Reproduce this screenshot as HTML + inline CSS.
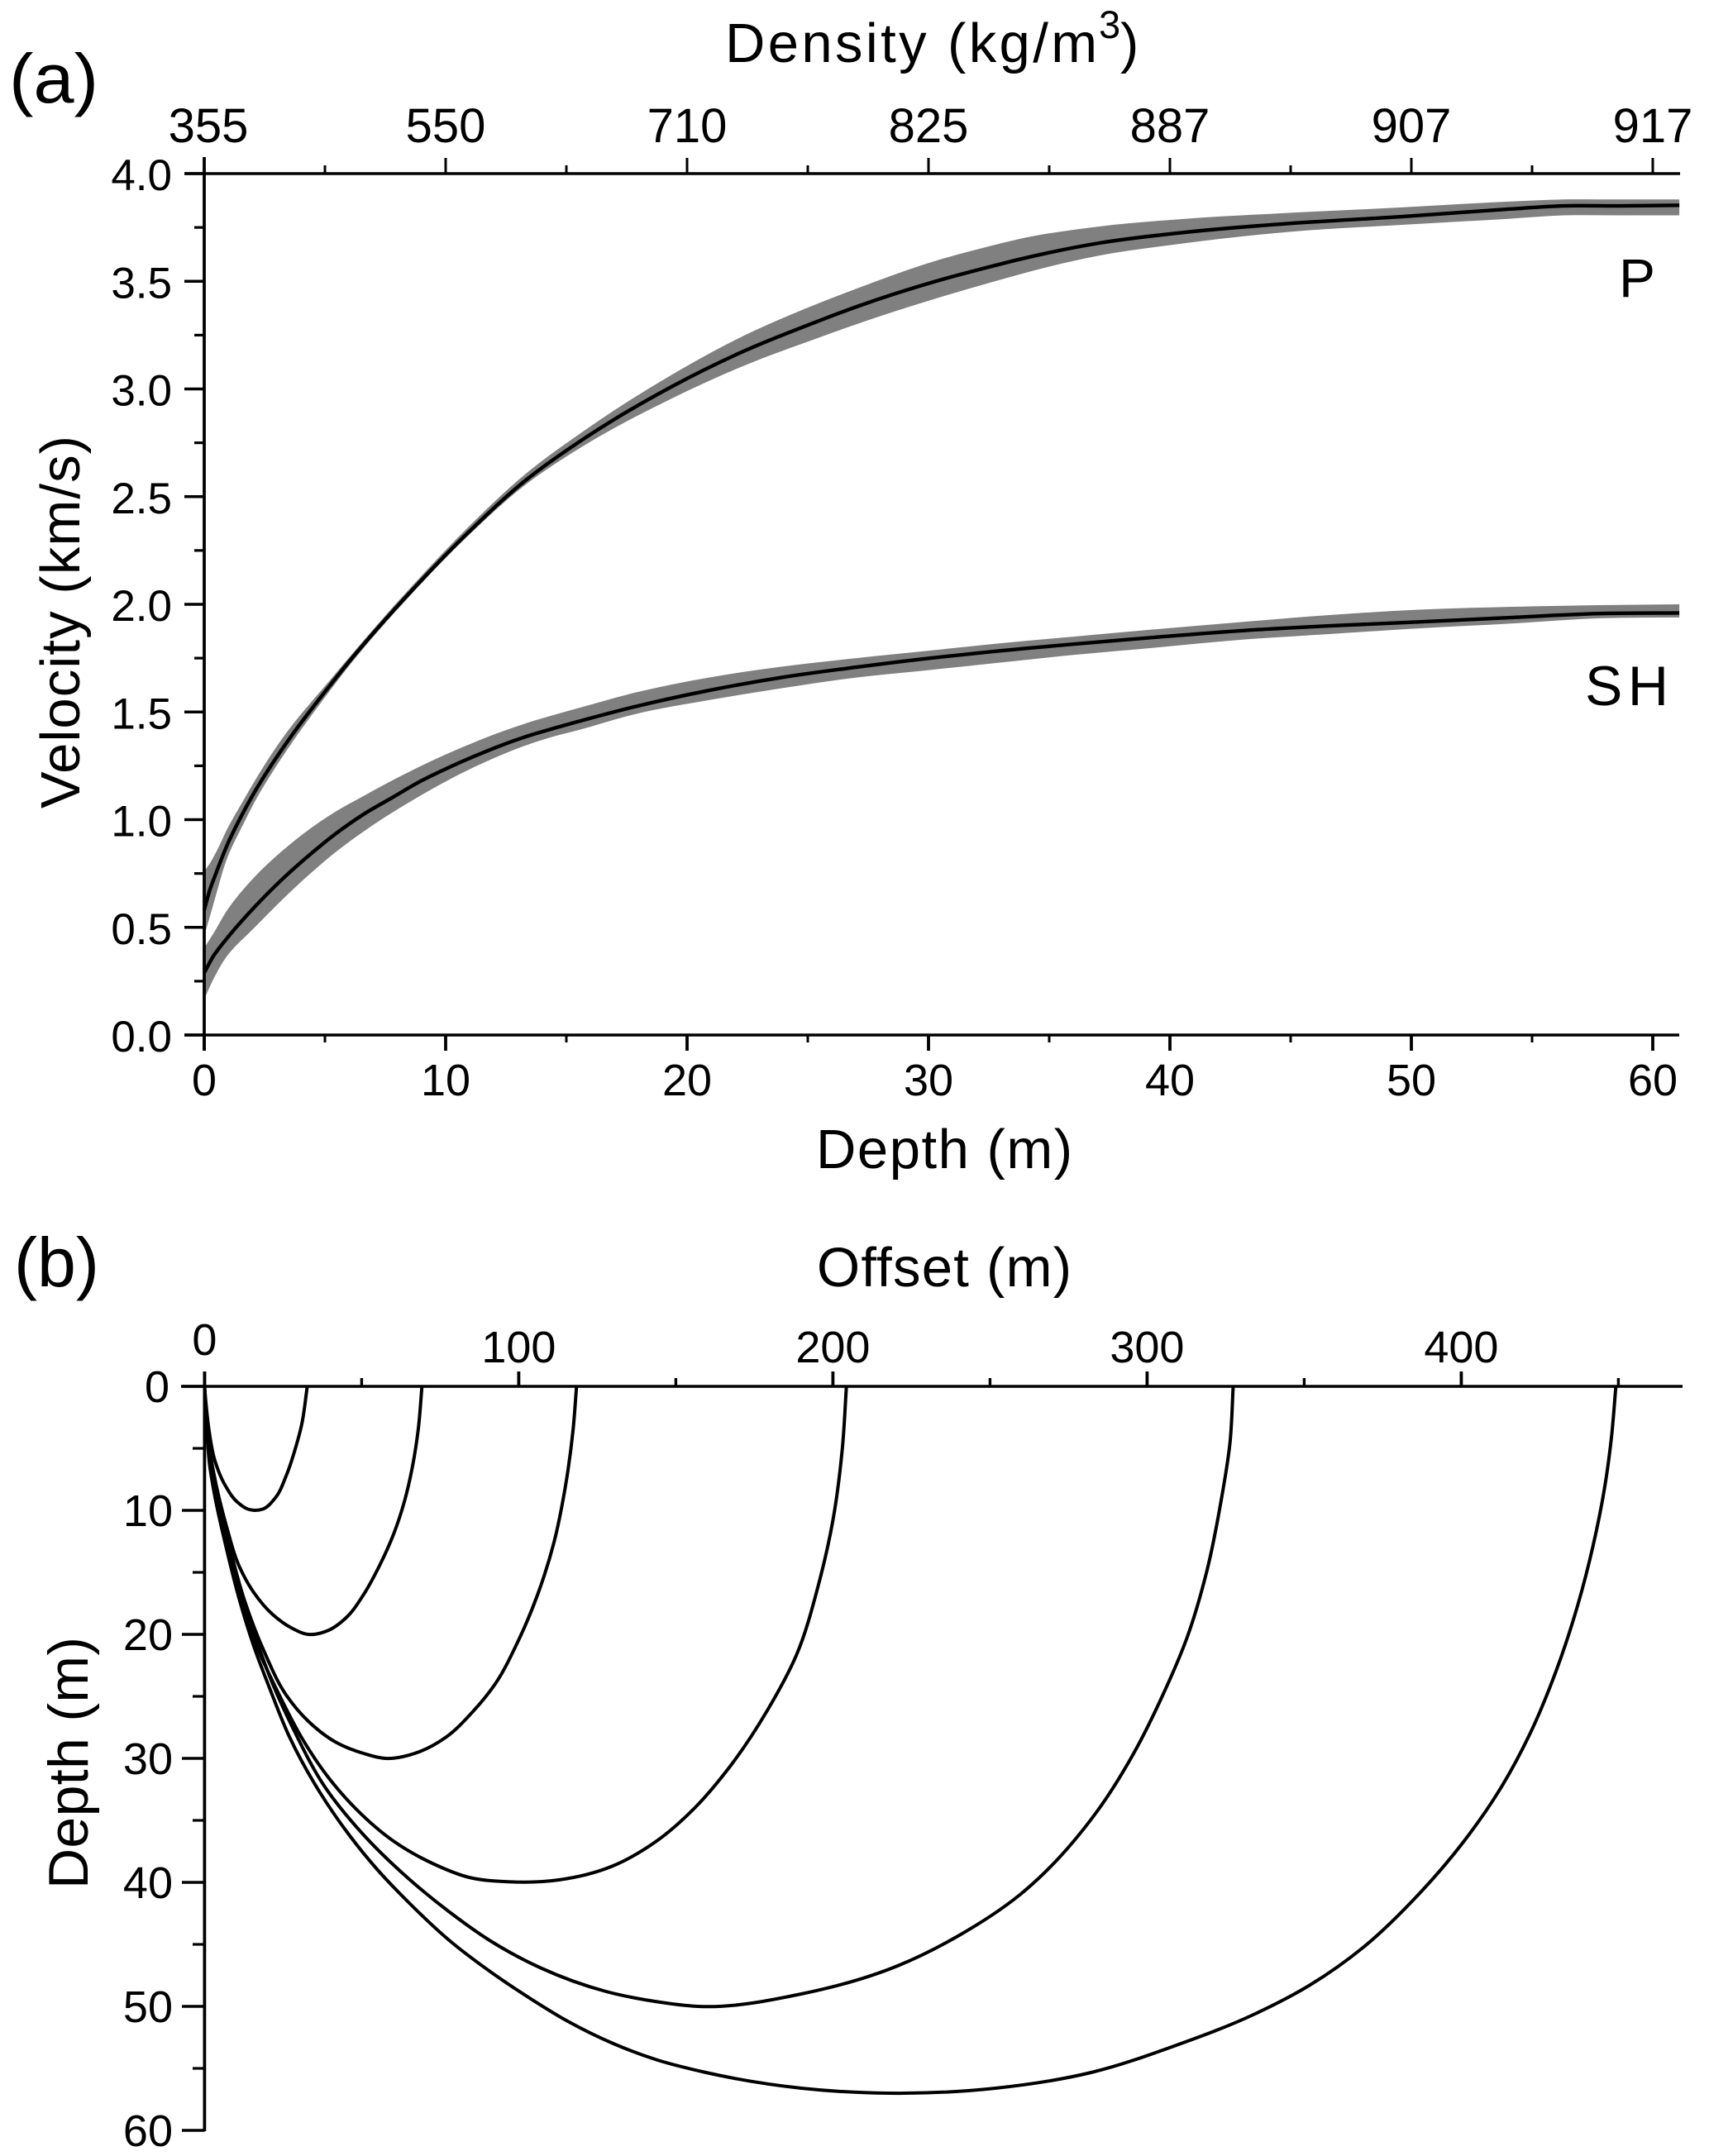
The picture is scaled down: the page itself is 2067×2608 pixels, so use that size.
<!DOCTYPE html>
<html lang="en">
<head>
<meta charset="utf-8">
<title>Velocity and ray paths</title>
<style>
html,body{margin:0;padding:0;background:#fff;width:2067px;height:2608px;overflow:hidden}
svg{display:block}
text{font-family:"Liberation Sans",Arial,sans-serif;fill:#000}
</style>
</head>
<body>
<svg id="fig" xmlns="http://www.w3.org/2000/svg" width="2067" height="2608" viewBox="0 0 2067 2608">
<rect width="2067" height="2608" fill="#fff"/>
<g id="a-bands"></g>
<g id="a-lines"></g>
<g id="b-rays"></g>
<g id="axes"></g>
<g id="labels"></g>
<text x="11" y="124" font-size="84" textLength="108" lengthAdjust="spacingAndGlyphs">(a)</text>
<text x="877" y="75" font-size="67" textLength="450">Density (kg/m</text>
<text x="1329" y="46" font-size="47">3</text>
<text x="1355" y="75" font-size="67">)</text>
<text transform="translate(96 978) rotate(-90)" font-size="67" textLength="451">Velocity (km/s)</text>
<text x="987" y="1413" font-size="67" textLength="310">Depth (m)</text>
<text x="1958" y="359" font-size="66">P</text>
<text x="1917" y="853" font-size="68" textLength="101">SH</text>
<text x="17" y="1556" font-size="84" textLength="103" lengthAdjust="spacingAndGlyphs">(b)</text>
<text x="988" y="1556" font-size="67" textLength="308">Offset (m)</text>
<text transform="translate(106 2285) rotate(-90)" font-size="68" textLength="305">Depth (m)</text>
</svg>
<script>
// Panel (a) data
const pDepth = [0,.25,.45,1,1.6,2.2,2.85,3.65,4.35,5.15,5.9,8.65,10.95,13.25,15.85,19.35,22.4,25.5,27,30.3,32.6,33.7,37.1,40.5,45,49.6,54,56.3,58.6,61.1];
const pMean  = [.58,.68,.74,.895,1.03,1.15,1.265,1.395,1.50,1.615,1.72,2.07,2.335,2.57,2.778,3.01,3.178,3.318,3.381,3.50,3.569,3.60,3.678,3.726,3.769,3.80,3.835,3.85,3.85,3.853];
const pUpper = [.76,.80,.84,.967,1.085,1.20,1.315,1.44,1.535,1.64,1.74,2.09,2.36,2.60,2.815,3.065,3.25,3.40,3.465,3.595,3.665,3.695,3.755,3.789,3.818,3.843,3.87,3.88,3.88,3.88];
const pLower = [.46,.556,.635,.835,.975,1.105,1.225,1.36,1.47,1.59,1.70,2.055,2.32,2.55,2.745,2.955,3.11,3.24,3.30,3.42,3.495,3.53,3.62,3.675,3.73,3.762,3.79,3.806,3.806,3.806];
const shDepth = [0,.4,.9,2.05,3.2,4.35,5.45,6.6,7.75,8.9,10.05,11.2,12.3,13.45,14.6,15.5,17.85,20.9,23.9,27,30.05,32.6,36,39.5,42.9,46.6,50.3,54,57.8,61.1];
const shMean  = [.289,.37,.443,.59,.72,.835,.935,1.025,1.10,1.175,1.238,1.295,1.345,1.39,1.428,1.456,1.525,1.60,1.66,1.708,1.75,1.78,1.815,1.848,1.877,1.90,1.918,1.938,1.957,1.96];
const shUpper = [.405,.475,.571,.73,.852,.955,1.038,1.11,1.18,1.245,1.305,1.36,1.408,1.452,1.49,1.518,1.59,1.66,1.71,1.75,1.785,1.815,1.85,1.885,1.917,1.95,1.975,1.988,1.996,2.0];
const shLower = [.166,.264,.36,.495,.625,.745,.85,.945,1.03,1.108,1.18,1.245,1.30,1.35,1.39,1.416,1.49,1.555,1.61,1.66,1.695,1.725,1.765,1.80,1.835,1.862,1.888,1.91,1.935,1.939];
const depthTicksA = [0,10,20,30,40,50,60];
const depthMinorA = [5,15,25,35,45,55];
const densityLabels = ["355","550","710","825","887","907","917"];
const velocityTicks = [0,.5,1,1.5,2,2.5,3,3.5,4];
const velocityMinor = [.25,.75,1.25,1.75,2.25,2.75,3.25,3.75];

// Panel (b) data: offset (m) and depth (m) along each ray
const ray1Offset = [0,.5,1.4,3.3,6.6,10.3,13.8,16,18.5,22.5,26,28.8,30.9,32.7];
const ray1Depth  = [0,1.5,3.5,6,8,9.3,9.9,10,9.9,9,7.2,5.1,3.1,0];
const ray2Offset = [0,.4,1,2.2,7,11.2,15.6,21.7,27.8,33,39.2,45.3,50.6,55.8,60.2,63.7,66.3,68,69.2];
const ray2Depth  = [0,2,4,6,11.3,14.6,16.6,18.4,19.5,20,19.7,18.6,16.8,14.4,11.9,9.2,6.3,3.5,0];
const ray3Offset = [0,.4,1,1.9,6.7,12.9,19,26,33,41.8,50.6,57.6,68,76.8,85.5,92.5,99.7,106,111.2,114.7,117.3,118.4];
const ray3Depth  = [0,2,4,6,11.5,17.4,21.4,24.9,27,28.7,29.6,30,29.5,28.3,26.2,24,20.6,16.8,12.6,8.3,3.5,0];
const ray4Offset = [0,.4,.9,1.7,7.2,11.9,14.5,24,31.3,39.6,47.9,60.3,72.8,84.2,96.6,112.8,129.7,143.7,156,166.8,179.2,188.5,195.4,200,203,204.3];
const ray4Depth  = [0,2,4,6,12.9,17.3,19.5,25,28.5,31.6,34,36.7,38.5,39.6,39.95,39.8,38.7,36.7,34,30.8,26.1,21.6,16,10.8,5,0];
const ray5Offset = [0,.3,.9,3.3,7.7,12,16.4,21.7,28.2,38.3,50,64.5,78,91.5,107,127.8,143.4,157,189.9,220.9,240,259.5,284,295.5,304.8,312.8,319.2,323.5,326.4,327.4];
const ray5Depth  = [0,2,4.2,8.4,12.9,17.1,20.4,24,27.6,32.3,36,39.6,42.4,44.8,46.9,48.8,49.6,50,49,46.7,44.3,41,34.3,29.7,25,20.2,14.7,9.3,4.5,0];
const ray6Offset = [0,.3,.9,1.55,3.3,6.8,11.2,15.6,20.8,26.9,36.6,45.8,55.1,64.5,78,91.5,103.9,115.6,130.1,143.8,159,190,217.8,251.7,282.7,308.6,334.4,351.7,369,386.3,400.8,412.3,421.7,430.4,437,441.9,445.6,447.8,449.2];
const ray6Depth  = [0,2,4.2,6.2,8.9,12.9,17.3,20.9,24.4,28.2,32.7,36.1,39,41.5,44.7,47.3,49.4,51.2,53,54.3,55.3,56.6,57,56.6,55.3,53.2,50.6,48.3,45.2,41,36.7,32.5,28.1,22.8,17.7,12.9,8.2,4.1,0];
const offsetTicks = [0,100,200,300,400];
const offsetMinor = [50,150,250,350,450];
const depthTicksB = [0,10,20,30,40,50,60];
const depthMinorB = [5,15,25,35,45,55];

// Axis functions
function xA(d){return 247+d*29.2;}
function yA(v){return 1252-v*260.5;}
function xB(o){return 247.4+o*3.8;}
function yB(d){return 1677+d*15;}

const NS='http://www.w3.org/2000/svg';
function mk(tag,attrs,parent,text){
  const e=document.createElementNS(NS,tag);
  for(const k in attrs)e.setAttribute(k,attrs[k]);
  if(text!==undefined)e.textContent=text;
  parent.appendChild(e);
  return e;
}
// Smooth path through points: chord-weighted (non-uniform) tangents
function smooth(pts,cont){
  const n=pts.length,t=[];
  for(let i=0;i<n;i++){
    if(i===0||i===n-1){
      const a=pts[i===0?0:n-2],b=pts[i===0?1:n-1];
      const l=Math.hypot(b[0]-a[0],b[1]-a[1])||1;
      t.push([(b[0]-a[0])/l,(b[1]-a[1])/l]);
    }else{
      const p=pts[i-1],q=pts[i],r=pts[i+1];
      const d1=Math.hypot(q[0]-p[0],q[1]-p[1])||1,d2=Math.hypot(r[0]-q[0],r[1]-q[1])||1;
      const ux=(q[0]-p[0])/d1*d2+(r[0]-q[0])/d2*d1,uy=(q[1]-p[1])/d1*d2+(r[1]-q[1])/d2*d1;
      const l=Math.hypot(ux,uy)||1;
      t.push([ux/l,uy/l]);
    }
  }
  let s=(cont?'L':'M')+pts[0][0].toFixed(2)+' '+pts[0][1].toFixed(2);
  for(let i=0;i<n-1;i++){
    const p=pts[i],q=pts[i+1],c=Math.hypot(q[0]-p[0],q[1]-p[1])/3;
    s+='C'+(p[0]+t[i][0]*c).toFixed(2)+' '+(p[1]+t[i][1]*c).toFixed(2)+' '+
      (q[0]-t[i+1][0]*c).toFixed(2)+' '+(q[1]-t[i+1][1]*c).toFixed(2)+' '+q[0].toFixed(2)+' '+q[1].toFixed(2);
  }
  return s;
}
function series(ds,vs){return ds.map(function(d,i){return [xA(d),yA(vs[i])];});}

const bands=document.getElementById('a-bands'),lines=document.getElementById('a-lines');
const pBand=mk('path',{d:smooth(series(pDepth,pUpper))+smooth(series(pDepth,pLower).reverse(),true)+'Z',fill:'#808080'},bands);


const shBand=mk('path',{d:smooth(series(shDepth,shUpper))+smooth(series(shDepth,shLower).reverse(),true)+'Z',fill:'#808080'},bands);


const pLine=mk('path',{d:smooth(series(pDepth,pMean)),fill:'none',stroke:'#000','stroke-width':4.4},lines);


const shLine=mk('path',{d:smooth(series(shDepth,shMean)),fill:'none',stroke:'#000','stroke-width':4.4},lines);



const rays=[[ray1Offset,ray1Depth],[ray2Offset,ray2Depth],[ray3Offset,ray3Depth],[ray4Offset,ray4Depth],[ray5Offset,ray5Depth],[ray6Offset,ray6Depth]];
const rayG=document.getElementById('b-rays');
rays.forEach(function(r,i){
  const pts=r[0].map(function(o,j){return [xB(o),yB(r[1][j])];});
  const el=mk('path',{d:smooth(pts),fill:'none',stroke:'#000','stroke-width':4},rayG);
  
  
});

const ax=document.getElementById('axes'),lab=document.getElementById('labels');
function seg(x1,y1,x2,y2,w,name){
  const el=mk('line',{x1:x1,y1:y1,x2:x2,y2:y2,stroke:'#000','stroke-width':w},ax);
  
  
  return el;
}
function label(x,y,size,anchor,str,name){
  const el=mk('text',{x:x,y:y,'font-size':size,'text-anchor':anchor},lab,str);
  
  
  return el;
}

// Panel (a) axes
seg(247,190,247,1271,3.8,'velocity-axis-line');
seg(224,210,2032,210,3.4,'density-axis-line');
seg(223,1252,2031,1252,3.4,'depth-axis-line-a');
depthTicksA.forEach(function(d,i){
  seg(xA(d),1252,xA(d),1271,3.8,'depth-tick-a');
  seg(xA(d),210,xA(d),191,3,'density-tick');
  label(xA(d),1325,54,'middle',String(d),'depth-tick-label-a');
  label(xA(d)+(i===0?5:0),172,58,'middle',densityLabels[i],'density-tick-label');
});
depthMinorA.forEach(function(d){
  seg(xA(d),1252,xA(d),1261,3,'depth-minor-tick-a');
  seg(xA(d),210,xA(d),200,3,'density-minor-tick');
});
velocityTicks.forEach(function(v){
  seg(223,yA(v),247,yA(v),3.4,'velocity-tick');
  label(208,yA(v)+20,53,'end',v.toFixed(1),'velocity-tick-label');
});
velocityMinor.forEach(function(v){
  seg(235,yA(v),247,yA(v),3.2,'velocity-minor-tick');
});

// Panel (b) axes
seg(247.4,1659,247.4,2578,3.8,'depth-axis-line-b');
seg(219,1677,2035,1677,3.4,'offset-axis-line');
offsetTicks.forEach(function(o){
  seg(xB(o),1677,xB(o),1659,3.8,'offset-tick');
  label(xB(o),o===0?1639:1648,54,'middle',String(o),'offset-tick-label');
});
offsetMinor.forEach(function(o){
  seg(xB(o),1677,xB(o),1667,3.4,'offset-minor-tick');
});
depthTicksB.forEach(function(d){
  seg(220,yB(d),247.4,yB(d),3.4,'depth-tick-b');
  label(d===0?205:209,yB(d)+19,54,'end',String(d),'depth-tick-label-b');
});
depthMinorB.forEach(function(d){
  seg(233,yB(d),247.4,yB(d),3.2,'depth-minor-tick-b');
});
</script>
</body>
</html>
